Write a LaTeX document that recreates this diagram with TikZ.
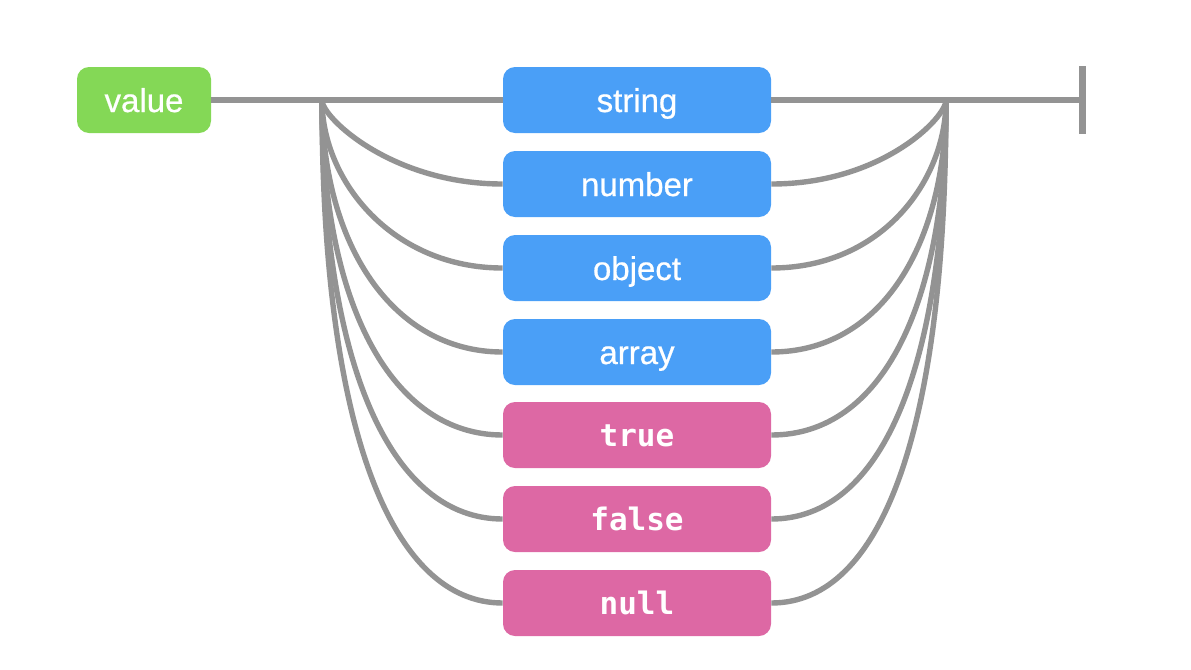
\documentclass[tikz,border=0pt]{standalone}
\usepackage{fontspec}
\setmainfont{Liberation Sans}
\setmonofont{DejaVu Sans Mono}
\newfontfamily\tokfont{Liberation Sans}[FakeBold=0.6]
\definecolor{valgreen}{HTML}{84D856}
\definecolor{typeblue}{HTML}{4A9FF7}
\definecolor{litpink}{HTML}{DD68A4}
\definecolor{railgray}{HTML}{939393}
\tikzset{
  rail/.style={draw=railgray,line width=2.7pt},
  tok/.style={rounded corners=6pt,minimum width=134pt,minimum height=33pt,inner sep=0pt,
    text=white,text height=12pt,text depth=0pt,font=\tokfont\fontsize{16.5}{18}\selectfont},
  typetok/.style={tok,fill=typeblue},
  littok/.style={tok,fill=litpink,text height=11pt,font=\ttfamily\bfseries\fontsize{15.5}{18}\selectfont},
}
\begin{document}
\begin{tikzpicture}[x=0.5pt,y=-0.5pt]
      \useasboundingbox (0,0) rectangle (1191,670);
      \node[tok,fill=valgreen,minimum width=67pt] (value) at (144,100) {value};
      \node[typetok] (string) at (637,100) {string};
      \node[typetok] (number) at (637,184) {number};
      \node[typetok] (object) at (637,268) {object};
      \node[typetok] (array) at (637,352) {array};
      \node[littok] (true) at (637,435) {true};
      \node[littok] (false) at (637,519) {false};
      \node[littok] (null) at (637,603) {null};
      \coordinate (ls) at (322,100);
      \coordinate (rs) at (946,100);
      \coordinate (stop) at (1082,100);
      \draw[rail] (value.east) -- (ls) -- (string.west);
      \draw[rail] (string.east) -- (rs) -- (stop);
      \draw[railgray,line width=3.5pt] (1082,66) -- (1082,134);
      \foreach \n/\a in {number/18,object/81,array/144,true/206,false/269,null/332}{
        \draw[rail] (ls) .. controls +(0,\a) and +(-110,0) .. (\n.west);
        \draw[rail] (\n.east) .. controls +(110,0) and +(0,\a) .. (rs);
      }
\end{tikzpicture}
\end{document}
